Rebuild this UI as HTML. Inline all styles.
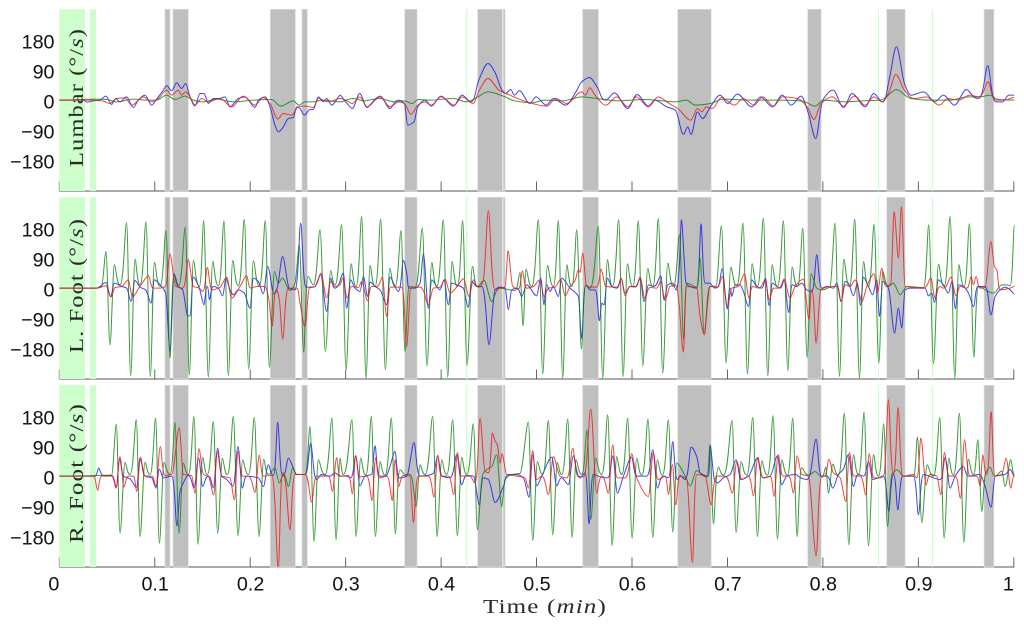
<!DOCTYPE html>
<html lang="en">
<head>
<meta charset="utf-8">
<title>Angular velocity over time</title>
<style>
html,body{margin:0;padding:0;background:#fff;}
svg{display:block;}
.tick{font-family:"Liberation Sans",sans-serif;font-size:19.7px;fill:#111;}
.lab{font-family:"Liberation Serif",serif;font-size:20.5px;fill:#2a2a2a;letter-spacing:0.9px;}
</style>
</head>
<body>
<svg id="chart" width="1024" height="628" viewBox="0 0 1024 628" xmlns="http://www.w3.org/2000/svg">
<text class="lab" x="483" y="613" textLength="124" lengthAdjust="spacingAndGlyphs" style="font-size:19.5px">Time (<tspan font-style="italic">min</tspan>)</text>
</svg>
<script>
// Time is stored as sample index; the recording has samplesPerMinute samples per minute.
const samplesPerMinute = 2863;
const xTickValues = [0,0.1,0.2,0.3,0.4,0.5,0.6,0.7,0.8,0.9,1];
const xTickLabels = ['0','0.1','0.2','0.3','0.4','0.5','0.6','0.7','0.8','0.9','1'];
const yTickValues = [180,90,0,-90,-180];
const yTickLabels = ['180','90','0','\u221290','\u2212180'];
const panelNames = ['Lumbar','L. Foot','R. Foot'];

const grayStart = [317,341,633,728,1036,1255,1332,1570,1855,2245,2482,2774];
const grayEnd   = [332,387,708,744,1073,1329,1337,1617,1955,2285,2537,2803];
const greenStart = [0,91,1220,2456,2617];
const greenEnd   = [77,110,1224,2459,2621];

// Lumbar
const lumbarBlueS = [0,72,84,102,122,140,157,169,182,202,222,237,257,277,292,312,322,337,352,367,379,392,407,422,434,447,462,480,497,512,537,557,587,597,617,632,647,657,672,687,702,712,722,735,752,762,777,792,802,817,839,842,855,879,901,923,940,962,992,1018,1035,1045,1064,1075,1097,1116,1145,1182,1208,1234,1258,1286,1306,1328,1339,1354,1365,1380,1411,1430,1460,1482,1519,1548,1567,1590,1613,1639,1665,1705,1733,1767,1786,1822,1848,1872,1885,1895,1914,1929,1953,1982,2005,2034,2077,2103,2139,2169,2195,2225,2247,2269,2290,2321,2352,2378,2417,2443,2469,2489,2511,2535,2554,2593,2626,2652,2685,2721,2757,2785,2809,2829,2848,2864];
const lumbarBlueV = [0,0,-6,-2,0,12,-13,5,-5,10,-22,0,15,-15,3,30,43,28,52,35,50,10,-17,20,20,-10,5,5,10,-20,5,10,-22,0,10,-20,-75,-95,-80,-55,-52,-20,-25,-45,-28,-28,10,-5,5,-15,12,15,0,-25,20,-22,-5,12,-25,0,-10,-75,-65,-20,0,-18,12,-18,15,-5,60,110,85,30,20,32,15,28,-10,10,-15,5,-15,22,55,68,40,0,22,-25,17,-18,0,-20,-30,-103,-80,-103,-35,-55,-20,15,-10,18,-20,10,-20,15,-15,12,-40,-115,0,30,-22,20,-20,20,-5,60,160,50,15,25,-5,15,-15,32,5,103,-5,-5,15,15];
const lumbarGreenS = [0,112,142,172,222,262,292,322,347,377,402,432,472,522,582,637,664,702,719,737,762,787,842,881,914,960,1005,1035,1058,1077,1116,1182,1221,1247,1286,1332,1365,1417,1456,1509,1567,1626,1678,1757,1848,1881,1907,1953,1992,2071,2149,2227,2267,2292,2358,2410,2463,2511,2554,2613,2672,2724,2763,2790,2816,2864];
const lumbarGreenV = [0,3,2,-5,3,0,0,15,2,12,0,-5,3,-5,0,2,-18,-2,-15,-5,-5,0,-5,5,-2,5,-5,-2,-10,2,0,5,-5,5,25,12,-2,-8,0,-2,10,3,-2,2,-5,0,-15,-10,3,0,0,-2,-18,0,-5,-2,0,32,5,0,0,10,10,15,2,0];
const lumbarRedS = [0,102,132,152,172,197,217,252,277,297,322,337,357,367,379,392,407,427,447,482,517,552,587,612,632,655,672,697,717,737,762,777,807,842,855,879,901,923,962,992,1018,1035,1055,1075,1097,1116,1145,1185,1208,1241,1260,1286,1319,1352,1411,1463,1489,1522,1567,1578,1591,1607,1639,1672,1705,1731,1767,1796,1829,1855,1894,1914,1927,1940,1959,1986,2025,2051,2084,2110,2142,2169,2214,2243,2264,2285,2319,2352,2385,2417,2443,2469,2489,2509,2535,2567,2600,2640,2665,2698,2731,2757,2786,2809,2835,2864];
const lumbarRedV = [0,0,-3,-10,5,7,-15,10,-5,5,30,15,30,15,25,10,-15,5,-5,5,-20,12,-15,8,-10,-57,-40,-45,-20,-18,-22,5,-5,5,2,-10,10,-20,10,-20,-5,-10,-43,-15,-5,-15,10,-15,10,-10,30,65,30,15,-8,-18,5,-10,25,15,37,15,-15,10,-20,10,-20,10,-10,-25,-60,-25,-35,-20,-25,8,-15,5,-15,10,-18,10,5,-20,-58,-10,10,-18,12,-15,10,-5,25,77,30,5,10,-15,5,0,15,10,55,0,0,8];

// Left foot
const lFootBlueS = [0,112,140,154,165,187,202,215,227,242,259,275,285,302,319,332,344,357,370,385,392,402,420,434,444,450,462,477,490,500,512,522,537,555,572,582,597,612,625,644,670,690,707,724,740,762,784,802,814,827,852,862,874,887,902,912,925,932,947,962,982,992,1007,1017,1032,1042,1049,1067,1082,1092,1107,1117,1132,1142,1154,1167,1177,1192,1212,1226,1237,1252,1267,1289,1307,1322,1337,1347,1357,1372,1387,1402,1432,1444,1454,1462,1472,1482,1497,1507,1532,1557,1567,1579,1592,1607,1620,1627,1634,1644,1657,1672,1685,1697,1712,1727,1742,1754,1767,1782,1804,1814,1825,1840,1850,1860,1866,1880,1892,1912,1925,1937,1950,1967,1977,1988,2004,2012,2017,2027,2042,2052,2067,2077,2092,2107,2118,2129,2139,2152,2162,2174,2188,2199,2212,2227,2242,2257,2272,2287,2302,2322,2332,2345,2357,2367,2382,2394,2403,2412,2427,2440,2452,2460,2470,2487,2505,2517,2527,2537,2552,2597,2607,2617,2625,2637,2652,2667,2677,2688,2699,2712,2727,2743,2755,2777,2794,2807,2822,2837,2852,2865];
const lFootBlueV = [0,0,17,-25,15,5,0,-40,23,3,-5,-45,25,10,-15,-188,43,5,-5,-83,-83,33,0,-50,5,-35,5,0,-23,30,-5,-20,-5,-15,-60,30,20,-17,65,-17,95,0,-5,195,3,3,40,-70,30,0,45,-60,25,0,-10,35,-25,18,5,-5,-50,33,5,-10,83,45,0,0,15,103,-60,25,5,-5,25,-50,15,10,0,-58,20,5,5,-170,-5,3,0,-65,-5,0,-25,10,-23,30,-50,10,-10,5,-25,30,0,-25,-152,10,-5,-5,-98,-45,-50,30,5,0,30,-15,5,5,30,-40,10,5,37,-35,10,15,-5,70,205,15,5,0,193,15,15,0,5,58,-63,0,-25,10,10,-10,-55,25,5,0,30,-52,15,5,0,25,-73,10,5,15,-5,-10,100,0,5,0,15,-40,20,15,-23,15,-52,33,5,-20,25,-85,20,0,-135,-60,-120,-5,0,0,-23,-15,-43,25,10,-15,20,-62,10,5,-15,-55,5,5,-80,-25,-5,3,-5,-17];
const lFootGreenS = [0,112,127,140,152,165,182,202,214,227,242,260,273,285,302,320,332,344,357,378,390,402,420,433,447,460,477,494,507,520,537,555,568,582,600,618,630,645,657,669,692,707,720,733,746,762,782,798,814,827,847,860,875,890,907,920,932,947,964,978,991,1007,1025,1037,1050,1067,1089,1103,1117,1132,1152,1165,1178,1194,1210,1223,1239,1254,1274,1297,1322,1352,1367,1382,1391,1400,1417,1437,1450,1464,1482,1497,1510,1522,1537,1552,1566,1579,1592,1617,1630,1644,1659,1678,1691,1704,1720,1737,1750,1765,1780,1797,1810,1825,1842,1860,1873,1882,1912,1922,1934,1952,1970,1986,2000,2014,2032,2051,2064,2078,2094,2112,2125,2138,2154,2172,2185,2198,2214,2230,2243,2255,2272,2287,2312,2327,2340,2353,2370,2386,2400,2412,2427,2444,2458,2470,2487,2502,2522,2542,2592,2608,2622,2637,2654,2672,2686,2698,2714,2730,2743,2757,2777,2802,2827,2842,2852,2865];
const lFootGreenV = [0,0,5,110,-170,70,10,197,-263,87,10,199,-265,78,5,173,-210,40,5,183,-260,83,5,203,-267,80,7,202,-263,83,7,207,-243,82,7,203,-238,50,15,30,-7,15,130,-192,35,10,175,-190,53,10,190,-245,73,5,215,-270,68,5,207,-245,60,5,173,-190,5,3,180,-233,77,5,205,-267,80,5,203,-232,65,5,23,-40,0,-5,-7,47,-113,57,5,205,-258,68,5,203,-270,70,5,175,-183,10,0,185,-270,85,5,205,-265,73,5,202,-233,60,5,209,-255,75,5,160,-155,15,3,90,-135,5,6,187,-225,63,7,195,-258,73,5,210,-263,70,5,202,-248,63,5,180,-208,43,0,-5,5,195,-265,87,5,207,-270,80,5,192,-225,50,5,15,-20,5,2,190,-227,72,5,215,-270,70,5,193,-207,5,-5,-15,10,10,7,190];
const lFootRedS = [0,112,140,155,167,187,207,219,242,268,282,302,319,332,349,370,387,402,420,430,444,459,482,502,517,542,562,574,592,617,627,639,650,660,670,687,712,722,737,750,767,785,802,814,827,842,850,864,877,897,907,925,937,952,969,982,994,1027,1042,1054,1082,1107,1122,1142,1157,1172,1192,1212,1229,1242,1257,1272,1287,1307,1322,1337,1346,1360,1377,1389,1402,1422,1442,1454,1467,1487,1504,1517,1532,1547,1557,1562,1570,1582,1612,1625,1639,1672,1685,1697,1710,1727,1742,1757,1772,1792,1804,1817,1832,1847,1860,1862,1872,1882,1912,1922,1935,1952,1972,1989,2004,2017,2037,2055,2069,2080,2097,2117,2130,2144,2157,2174,2192,2207,2232,2249,2257,2270,2284,2312,2332,2345,2357,2372,2387,2408,2422,2444,2454,2467,2480,2494,2504,2517,2526,2537,2592,2614,2627,2642,2652,2674,2690,2702,2722,2735,2742,2750,2762,2777,2794,2805,2812,2822,2852,2865];
const lFootRedV = [0,0,7,-27,2,5,25,-27,5,37,0,0,5,103,5,0,85,5,0,-10,62,-5,3,33,-30,5,37,0,5,5,-25,-113,-5,-35,-153,0,0,-45,-115,0,5,45,-30,20,5,10,30,-30,5,2,20,-38,5,5,33,-85,3,3,-175,0,3,-50,0,3,27,-15,3,28,-25,25,3,25,233,-5,0,3,112,5,-3,52,0,5,25,-25,0,3,27,-23,5,23,55,47,105,5,3,57,5,3,30,-23,5,3,33,-33,2,0,20,-37,5,10,-55,-85,-192,5,0,-85,-140,5,3,35,-55,0,5,43,-30,5,0,25,-35,0,0,27,-30,5,27,-95,-5,-165,-5,5,5,-40,10,5,25,-40,5,43,-15,60,5,15,230,90,245,5,0,30,-30,5,0,33,-23,5,0,35,10,35,0,3,140,65,55,-5,0,5];

// Right foot
const rFootBlueS = [0,107,118,132,157,171,181,192,212,232,242,257,277,290,300,312,337,353,362,372,387,404,418,430,447,462,475,487,502,522,536,549,562,597,612,627,642,655,670,687,700,714,737,754,772,787,812,827,842,862,874,889,902,917,937,947,960,977,992,1007,1020,1042,1064,1082,1102,1122,1135,1147,1172,1192,1207,1222,1242,1260,1272,1287,1307,1332,1347,1372,1392,1409,1420,1432,1447,1477,1492,1507,1527,1542,1562,1577,1589,1602,1622,1645,1660,1674,1692,1717,1732,1762,1780,1794,1812,1827,1840,1854,1862,1877,1895,1912,1922,1947,1952,1965,1974,1992,2012,2030,2044,2067,2094,2112,2132,2154,2167,2182,2207,2224,2242,2270,2287,2302,2320,2337,2352,2367,2382,2397,2412,2427,2440,2457,2472,2488,2502,2515,2530,2562,2577,2592,2622,2642,2657,2672,2687,2712,2727,2757,2777,2795,2807,2837,2852,2865];
const rFootBlueV = [0,0,24,2,2,-33,51,0,-8,-33,54,0,-5,-36,21,-5,0,-149,-45,-20,2,-36,54,-31,0,-35,84,0,-10,-30,89,-36,0,-5,-31,34,2,162,0,54,29,5,5,99,-10,5,0,10,0,0,-5,61,-29,0,5,91,0,0,30,74,-5,0,101,0,2,8,61,0,-5,64,-26,2,0,-86,-5,-10,-79,-31,5,5,-5,-63,64,-29,0,57,-29,-5,-25,61,-5,10,-143,5,-2,-5,61,-51,0,57,0,0,79,-36,0,-5,104,-10,2,-10,87,59,10,0,94,-10,-20,-5,5,49,-10,0,54,-5,0,61,-26,0,5,-5,-10,111,0,0,-36,5,21,64,-31,5,0,44,-10,-5,0,-106,5,-101,0,0,-116,5,-5,-10,56,-36,0,29,0,5,-31,-93,0,5,20,0];
const rFootGreenS = [0,157,171,182,197,212,231,242,257,272,289,300,314,332,347,359,372,387,404,416,430,444,462,475,489,504,522,536,550,567,585,599,613,627,647,660,672,687,700,712,737,752,764,777,797,818,830,842,852,878,890,904,919,936,948,962,977,996,1008,1022,1037,1052,1070,1082,1097,1120,1133,1147,1162,1180,1194,1207,1222,1242,1254,1270,1282,1297,1312,1327,1337,1357,1382,1407,1420,1434,1450,1467,1480,1494,1507,1525,1538,1550,1567,1583,1594,1609,1627,1645,1658,1672,1687,1705,1718,1732,1747,1766,1780,1794,1809,1827,1840,1852,1875,1892,1912,1927,1942,1952,1962,1977,1992,2018,2030,2045,2062,2080,2094,2107,2124,2141,2154,2167,2184,2200,2213,2227,2247,2267,2287,2299,2307,2320,2337,2355,2368,2382,2397,2414,2427,2442,2457,2473,2484,2497,2514,2532,2562,2574,2587,2603,2622,2641,2654,2668,2682,2700,2713,2727,2742,2755,2767,2777,2792,2807,2827,2837,2854,2865];
const rFootGreenV = [0,3,156,-171,41,5,169,-181,42,5,174,-201,41,5,161,-171,39,5,179,-204,57,5,164,-171,54,5,179,-179,49,5,176,-181,51,5,24,-21,5,-31,24,5,5,149,-196,49,5,174,-191,54,5,169,-181,54,3,179,-181,44,3,174,-173,19,5,5,-91,34,5,179,-181,49,5,169,-179,57,5,157,-161,5,20,29,64,-91,-10,5,8,162,-193,44,5,167,-176,41,5,171,-184,49,5,139,-129,54,5,184,-208,59,5,174,-186,54,3,171,-184,49,3,169,-168,39,5,-29,17,5,-3,94,-143,27,3,167,-169,44,3,176,-181,46,3,181,-189,49,3,174,-181,25,3,14,-3,27,-51,36,3,189,-206,64,5,192,-209,64,0,157,-151,5,19,0,0,117,-139,34,0,176,-186,54,3,189,-199,51,5,109,-106,2,27,0,15,-31,49,5];
const rFootRedS = [0,102,115,127,157,170,182,194,207,222,232,244,257,277,290,303,317,337,360,372,397,407,419,432,447,463,474,487,512,525,536,550,567,587,600,612,637,657,670,692,707,737,757,772,807,819,832,842,867,879,889,902,922,938,949,960,982,999,1007,1018,1032,1052,1062,1077,1107,1124,1135,1147,1167,1183,1194,1207,1232,1247,1262,1277,1287,1299,1307,1314,1322,1328,1342,1372,1397,1407,1420,1432,1447,1467,1482,1502,1522,1540,1554,1572,1594,1612,1627,1647,1660,1674,1697,1717,1732,1767,1782,1797,1817,1827,1839,1849,1862,1882,1899,1912,1937,1955,1972,1997,2019,2032,2047,2067,2082,2095,2112,2132,2144,2156,2172,2187,2202,2213,2227,2247,2270,2287,2295,2308,2322,2342,2359,2370,2384,2402,2419,2429,2444,2462,2474,2487,2502,2516,2530,2562,2572,2584,2600,2612,2632,2644,2655,2670,2687,2703,2715,2732,2752,2762,2770,2782,2795,2807,2827,2840,2854,2865];
const rFootRedV = [0,0,-43,0,0,-36,59,-33,0,0,-46,57,0,0,-31,89,2,5,146,5,2,-51,82,5,0,-56,74,0,-5,-71,74,0,0,-49,63,0,2,-280,11,-161,5,5,-78,0,0,-46,56,0,2,-53,61,-2,0,-73,56,-5,0,-73,49,-31,2,0,-139,0,0,-63,63,0,0,-56,71,0,0,-20,174,15,10,129,105,94,39,67,5,0,-5,-36,76,-10,0,-55,59,0,-5,84,0,-2,201,-51,0,-51,94,-5,-5,67,-5,-61,71,-10,0,-55,35,-86,0,-10,-259,5,0,-86,0,0,-51,44,-10,0,-59,57,-5,0,-61,64,0,0,-51,61,5,0,-239,0,0,51,10,-5,-76,71,0,0,-56,67,-5,-5,5,229,5,206,0,5,-5,114,-26,5,0,-56,71,0,0,-66,109,0,0,-30,64,5,194,0,5,54,-36,2];

const panelSeries = [
  {blue:[lumbarBlueS,lumbarBlueV],green:[lumbarGreenS,lumbarGreenV],red:[lumbarRedS,lumbarRedV]},
  {blue:[lFootBlueS,lFootBlueV],green:[lFootGreenS,lFootGreenV],red:[lFootRedS,lFootRedV]},
  {blue:[rFootBlueS,rFootBlueV],green:[rFootGreenS,rFootGreenV],red:[rFootRedS,rFootRedV]}
];

const svg = document.getElementById('chart');
const NS = 'http://www.w3.org/2000/svg';
const plotLeft = 59.3, plotRight = 1013.8;
const panelTop = [9.3,197.3,385.3];
const panelHeight = 181.7;
const yHalfRange = 272.5;
const labelBaseline = 83;
const labelBottom = [167,353,543];
const labelLength = [139,135,140];
const seriesColor = {blue:'#1414f0',green:'#0a800a',red:'#f01414'};
const seriesOrder = ['blue','green','red'];

function xScale(sample){ return plotLeft + (sample/samplesPerMinute)*(plotRight-plotLeft); }
function xFromMinutes(m){ return plotLeft + m*(plotRight-plotLeft); }
function yScale(v,p){ return panelTop[p] + panelHeight/2 - (v/yHalfRange)*(panelHeight/2); }

function mk(tag,attrs,parent){
  const el = document.createElementNS(NS,tag);
  for(const k in attrs) el.setAttribute(k,attrs[k]);
  (parent||svg).appendChild(el);
  return el;
}
// Monotone curve through the extrema; a small-amplitude knot next to a large one
// keeps a longer flat handle so bursts stay narrow with a flat baseline between them.
function monotonePath(xs,ys,zero){
  const n = Math.min(xs.length,ys.length);
  const s = [], m = [];
  for(let i=0;i<n-1;i++){ const dx=(xs[i+1]-xs[i])||0.001; s.push((ys[i+1]-ys[i])/dx); }
  m[0]=0; m[n-1]=0;
  for(let i=1;i<n-1;i++){
    m[i] = s[i-1]*s[i]<=0 ? 0 : 2*s[i-1]*s[i]/(s[i-1]+s[i]);
  }
  let d = 'M'+xs[0].toFixed(2)+' '+ys[0].toFixed(2);
  for(let i=0;i<n-1;i++){
    const dx = xs[i+1]-xs[i];
    const a = Math.abs(ys[i]-zero), b = Math.abs(ys[i+1]-zero);
    const r = Math.max(a,b)>0 ? Math.min(a,b)/Math.max(a,b) : 1;
    let h1 = dx/3, h2 = dx/3;
    if(r<0.2 && Math.max(a,b)>8){
      if(a<b){ if(m[i]===0) h1=dx*0.6; if(m[i+1]===0) h2=dx*0.28; }
      else   { if(m[i]===0) h1=dx*0.28; if(m[i+1]===0) h2=dx*0.6; }
    }
    d += 'C'+(xs[i]+h1).toFixed(2)+' '+(ys[i]+m[i]*h1).toFixed(2)+' '+(xs[i+1]-h2).toFixed(2)+' '+(ys[i+1]-m[i+1]*h2).toFixed(2)+' '+xs[i+1].toFixed(2)+' '+ys[i+1].toFixed(2);
  }
  return d;
}

const defs = mk('defs',{});
panelNames.forEach(function(name,p){
  const slug = name.toLowerCase().replace(/[^a-z]+/g,'-');
  const g = mk('g',{});
  
  

  const clip = mk('clipPath',{id:'clip'+p},defs);
  mk('rect',{x:plotLeft,y:panelTop[p],width:plotRight-plotLeft+1,height:panelHeight},clip);

  const bottom = panelTop[p]+panelHeight;
  const axis = mk('line',{x1:plotLeft,x2:plotRight+0.5,y1:bottom,y2:bottom,stroke:'#777','stroke-width':1.3},g);
  
  

  xTickValues.forEach(function(t){
    const tick = mk('line',{x1:xFromMinutes(t),x2:xFromMinutes(t),y1:bottom-9.5,y2:bottom,stroke:'#555','stroke-width':0.9},g);
    
    
  });

  greenStart.forEach(function(a,i){
    const r = mk('rect',{x:xScale(a),y:panelTop[p],width:xScale(greenEnd[i])-xScale(a),height:panelHeight,fill:'#ccffcc'},g);
    
    
  });
  grayStart.forEach(function(a,i){
    const r = mk('rect',{x:xScale(a),y:panelTop[p],width:xScale(grayEnd[i])-xScale(a),height:panelHeight,fill:'#bfbfbf',stroke:'#dcdcdc','stroke-width':0.7},g);
    
    
  });

  const lab = mk('text',{'class':'lab',transform:'translate('+labelBaseline+' '+labelBottom[p]+') rotate(-90)',textLength:labelLength[p],lengthAdjust:'spacingAndGlyphs'},g);
  
  
  lab.appendChild(document.createTextNode(name+' (\u00B0/'));
  const ital = mk('tspan',{'font-style':'italic'},lab);
  ital.textContent = 's';
  lab.appendChild(document.createTextNode(')'));

  yTickValues.forEach(function(v,i){
    const t = mk('text',{'class':'tick',x:54.5,y:yScale(v,p)+8.5,'text-anchor':'end'},g);
    
    
    t.textContent = yTickLabels[i];
  });

  const lines = mk('g',{'clip-path':'url(#clip'+p+')'},g);
  const zero = yScale(0,p);
  seriesOrder.forEach(function(c){
    const pair = panelSeries[p][c];
    const S = pair[0], V = pair[1];
    const n = Math.min(S.length,V.length);
    const xs = [], ys = [];
    for(let i=0;i<n;i++){ xs.push(xScale(S[i])); ys.push(yScale(V[i],p)); }
    const path = mk('path',{d:monotonePath(xs,ys,zero),fill:'none',stroke:seriesColor[c],'stroke-width':1,'stroke-opacity':0.8,'stroke-linejoin':'round'},lines);
    
    
  });
});

xTickValues.forEach(function(t,i){
  const endAligned = (t===0||t===1);
  const el = mk('text',{'class':'tick',x:endAligned?xFromMinutes(t):xFromMinutes(t)+0.4,y:590.7,'text-anchor':endAligned?'end':'middle'});
  
  
  el.textContent = xTickLabels[i];
});
</script>
</body>
</html>
